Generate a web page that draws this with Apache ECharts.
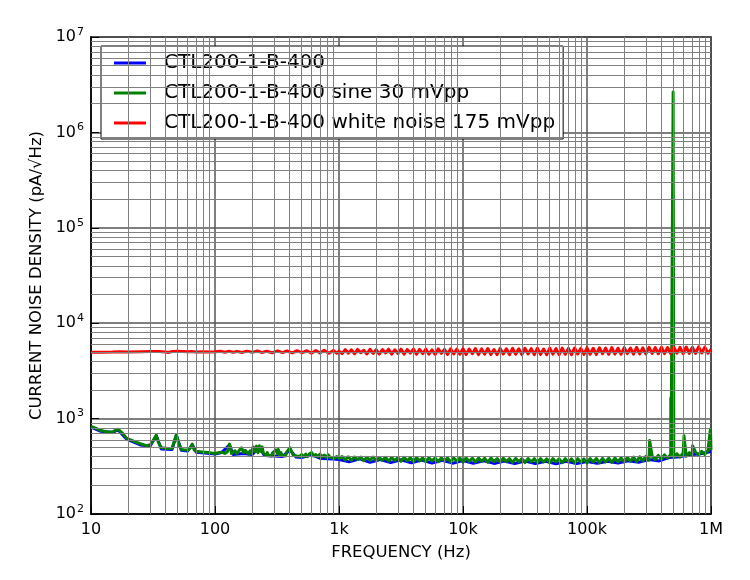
<!DOCTYPE html>
<html><head><meta charset="utf-8">
<script src="https://cdn.jsdelivr.net/npm/echarts@6/dist/echarts.min.js"></script>
<style>html,body{margin:0;padding:0;background:#fff}#c{width:750px;height:580px}</style>
</head><body><div id="c"></div>
<script>
// ---- tick labels ----
const xTickValues = [10, 100, 1000, 10000, 100000, 1000000];
const xTickLabels = ['10', '100', '1k', '10k', '100k', '1M'];
const yTickValues = [100, 1000, 10000, 100000, 1000000, 10000000];
const yTickExponents = ['2', '3', '4', '5', '6', '7'];
const minorMantissas = [2, 3, 4, 5, 6, 7, 8, 9];
const xDecades = [10, 100, 1000, 10000, 100000];
const yDecades = [100, 1000, 10000, 100000, 1000000];

const seriesNames = ['CTL200-1-B-400', 'CTL200-1-B-400 sine 30 mVpp', 'CTL200-1-B-400 white noise 175 mVpp'];

// ---- shared high-frequency sample grid (1 kHz .. 1 MHz) ----
const freqHigh = [
  1000, 1059, 1122, 1189, 1259, 1334, 1413, 1496, 1585, 1679, 1778, 1884, 1995, 2113, 2239, 2371, 2512, 2661, 2818, 2985,
  3162, 3350, 3548, 3758, 3981, 4217, 4467, 4732, 5012, 5309, 5623, 5957, 6310, 6683, 7079, 7499, 7943, 8414, 8913, 9441,
  10000, 10590, 11220, 11890, 12590, 13340, 14130, 14960, 15850, 16790, 17780, 18840, 19950, 21130, 22390, 23710, 25120, 26610, 28180, 29850,
  31620, 33500, 35480, 37580, 39810, 42170, 44670, 47320, 50120, 53090, 56230, 59570, 63100, 66830, 70790, 74990, 79430, 84140, 89130, 94410,
  100000, 105900, 112200, 118900, 125900, 133400, 141300, 149600, 158500, 167900, 177800, 188400, 199500, 211300, 223900, 237100, 251200, 266100, 281800, 298500,
  316200, 335000, 354800, 375800, 398100, 421700, 446700, 473200, 501200, 530900, 562300, 595700, 631000, 668300, 707900, 749900, 794300, 841400, 891300, 944100,
  1000000];

// ---- blue: CTL200-1-B-400 ----
const freqBlue = [10, 12, 15, 16.5, 19.3, 25, 30, 33.6, 36.9, 45, 48.8, 53.5, 60, 65.5, 70.7, 82.5, 100, 113, 131, 140,
  170, 200, 228, 250, 300, 350, 403, 450, 500, 600, 700, 800, 900,
  1000, 1210, 1470, 1780, 2150, 2610, 3160, 3830, 4640, 5620, 6810, 8250,
  10000, 12100, 14700, 17800, 21500, 26100, 31600, 38300, 46400, 56200, 68100, 82500,
  100000, 121000, 147000, 178000, 215000, 261000, 316000, 383000, 464000, 562000, 681000, 825000, 1000000];
const valBlue = [815, 735, 715, 765, 610, 530, 515, 660, 480, 475, 670, 465, 458, 530, 445, 435, 425, 440, 530, 420,
  430, 420, 500, 410, 405, 400, 470, 395, 390, 420, 385, 380, 378,
  372, 352, 378, 348, 372, 346, 370, 344, 368, 342, 366, 341,
  364, 340, 362, 339, 360, 338, 358, 338, 357, 337, 356, 338,
  355, 340, 358, 343, 362, 349, 372, 360, 392, 398, 418, 428, 452];

// ---- green: CTL200-1-B-400 sine 30 mVpp ----
const freqGreenLow = [10, 11, 12, 13.7, 15, 16.5, 18, 19.3, 22, 25, 27.9, 30, 32, 33.6, 35, 36.9, 41.7, 45, 47, 48.8,
  51, 53.5, 57, 60.6, 63, 65.5, 68, 70.7, 76, 82.5, 90, 99.5, 106, 112.6, 120, 126, 131, 136, 140, 145,
  150, 158, 164, 170, 175, 180, 186, 192, 197, 203, 210, 216, 222, 228, 233, 240, 246, 252, 258, 264,
  270, 277, 284, 292, 300, 310, 318, 324, 332, 340, 350, 360, 370, 380, 392, 403, 414, 425, 440, 455,
  470, 484, 500, 520, 540, 560, 580, 603, 625, 650, 675, 702, 730, 760, 790, 818, 850, 880, 920, 960];
const valGreenLow = [830, 790, 750, 725, 730, 775, 700, 625, 580, 545, 520, 530, 600, 670, 560, 495, 485, 490, 580, 680,
  540, 475, 470, 468, 490, 540, 470, 455, 450, 445, 440, 430, 438, 445, 432, 450, 540, 430, 428, 460,
  430, 470, 495, 440, 465, 475, 425, 460, 430, 505, 450, 515, 440, 520, 455, 505, 430, 450, 415, 440,
  410, 430, 405, 440, 420, 470, 430, 475, 415, 440, 410, 430, 405, 450, 470, 495, 450, 420, 435, 405,
  425, 400, 420, 398, 425, 400, 430, 440, 405, 420, 398, 425, 395, 415, 392, 418, 390, 408, 385, 400];
const valGreenHigh = [
  382, 400, 368, 398, 365, 396, 372, 394, 362, 392, 367, 396, 360, 390, 366, 393, 358, 391, 364, 389,
  357, 392, 362, 388, 355, 390, 361, 387, 354, 389, 360, 386, 353, 388, 359, 386, 352, 387, 358, 385,
  351, 386, 357, 384, 350, 385, 356, 383, 349, 386, 355, 382, 348, 384, 354, 381, 347, 383, 353, 380,
  346, 382, 352, 380, 346, 381, 351, 379, 345, 381, 351, 378, 345, 380, 350, 379, 344, 380, 350, 378,
  344, 381, 350, 382, 345, 383, 351, 384, 347, 386, 353, 388, 350, 391, 357, 394, 355, 398, 362, 402,
  366, 406, 372, 411, 377, 416, 384, 422, 390, 428, 396, 434, 402, 440, 408, 447, 415, 454, 422, 462,
  470];
const greenSpikeFreq = [320000, 474000, 476500, 495000, 606000, 710000, 990000];
const greenSpikeVal = [590, 1640, 420, 2650000, 660, 520, 780];

// ---- red: CTL200-1-B-400 white noise 175 mVpp ----
const freqRedLow = [10, 12, 15, 17, 20, 25, 30, 35, 40, 42, 45, 50, 55, 60, 65, 70, 80, 90, 100, 110,
  120, 130, 140, 150, 165, 180, 200, 220, 240, 260, 290, 320, 350, 380, 420, 460, 500, 550, 600, 650,
  700, 760, 830, 900, 960];
const valRedLow = [4950, 4960, 4980, 5010, 4980, 5020, 5050, 5060, 5000, 4930, 5050, 5080, 5060, 5020, 5060, 5000, 5020, 4980, 5010, 5070,
  4960, 5080, 4940, 5070, 4930, 5100, 4950, 5120, 4920, 5090, 4900, 5130, 4920, 5110, 4880, 5150, 4900, 5140, 4860, 5170,
  4880, 5190, 4850, 5170, 4840];
const valRedHigh = [
  5100, 4800, 5290, 4850, 5250, 4780, 5310, 4900, 5200, 4760, 5330, 4820, 5280, 4750, 5300, 4880, 5340, 4740, 5260, 4810,
  5350, 4730, 5290, 4860, 5360, 4720, 5310, 4790, 5370, 4740, 5250, 4710, 5380, 4830, 5320, 4700, 5390, 4760, 5340, 4720,
  5400, 4700, 5350, 4780, 5420, 4690, 5380, 4740, 5430, 4700, 5300, 4680, 5440, 4760, 5390, 4690, 5450, 4720, 5400, 4680,
  5460, 4750, 5410, 4690, 5470, 4710, 5360, 4680, 5480, 4740, 5420, 4700, 5490, 4720, 5440, 4690, 5500, 4760, 5450, 4710,
  5510, 4730, 5460, 4700, 5520, 4780, 5480, 4720, 5540, 4750, 5470, 4730, 5560, 4800, 5500, 4740, 5570, 4770, 5520, 4760,
  5590, 4820, 5540, 4780, 5600, 4800, 5560, 4790, 5620, 4850, 5580, 4810, 5630, 4830, 5600, 4820, 5650, 4870, 5610, 4850,
  5300];

function zip(xs, ys) { return xs.map((x, i) => [x, ys[i]]); }

const blueData = zip(freqBlue, valBlue);
const greenData = zip(freqGreenLow, valGreenLow)
  .concat(zip(freqHigh, valGreenHigh), zip(greenSpikeFreq, greenSpikeVal))
  .sort((a, b) => a[0] - b[0]);
const redData = zip(freqRedLow, valRedLow).concat(zip(freqHigh, valRedHigh));

const xMinor = [];
xDecades.forEach(d => minorMantissas.forEach(m => xMinor.push(d * m)));
const yMinor = [];
yDecades.forEach(d => minorMantissas.forEach(m => yMinor.push(d * m)));

const chart = echarts.init(document.getElementById('c'), null, {renderer: 'canvas'});
const lineSeries = (name, color, data, z, w) => ({
  name, type: 'line', data, symbol: 'none', showSymbol: false, z,
  lineStyle: {color, width: w, join: 'round'}, itemStyle: {color}, animation: false, silent: true,
  emphasis: {disabled: true}
});

chart.setOption({
  animation: false,
  backgroundColor: '#fff',
  grid: {left: 91, right: 39, top: 37, bottom: 66, show: true, borderColor: '#000', borderWidth: 1.5, backgroundColor: '#fff'},
  legend: {
    data: seriesNames.map(n => ({name: n, icon: 'rect'})), orient: 'vertical', left: 101, top: 46,
    backgroundColor: '#fff', borderColor: '#000', borderWidth: 1, borderRadius: 0,
    padding: [7, 8, 6, 13], itemGap: 10, itemWidth: 32, itemHeight: 3,
    textStyle: {fontFamily: 'DejaVu Sans', fontSize: 20, color: '#000', padding: [0, 0, 0, 13], lineHeight: 20},
    selectedMode: false
  },
  xAxis: {
    type: 'log', logBase: 10, min: 10, max: 1000000, splitNumber: 5,
    axisLine: {show: true, onZero: false, lineStyle: {color: '#000', width: 1.5}},
    axisTick: {show: true, inside: true, length: 8, lineStyle: {color: '#000'}},
    axisLabel: {
      color: '#000', fontFamily: 'DejaVu Sans', fontSize: 16, margin: 8,
      formatter: v => { const i = xTickValues.findIndex(t => Math.abs(t - v) / t < 1e-6); return i >= 0 ? xTickLabels[i] : ''; }
    },
    splitLine: {show: true, lineStyle: {color: '#555', width: 1.5}},
    name: 'FREQUENCY (Hz)', nameLocation: 'middle', nameGap: 30,
    nameTextStyle: {color: '#000', fontFamily: 'DejaVu Sans', fontSize: 16.5}
  },
  yAxis: {
    type: 'log', logBase: 10, min: 100, max: 10000000, splitNumber: 5,
    axisLine: {show: true, onZero: false, lineStyle: {color: '#000', width: 1.5}},
    axisTick: {show: true, inside: true, length: 8, lineStyle: {color: '#000'}},
    axisLabel: {
      color: '#000', margin: 7,
      formatter: v => { const i = yTickValues.findIndex(t => Math.abs(t - v) / t < 1e-6); return i >= 0 ? '{b|10}{s|' + yTickExponents[i] + '}' : ''; },
      rich: {
        b: {fontFamily: 'DejaVu Sans', fontSize: 16, color: '#000'},
        s: {fontFamily: 'DejaVu Sans', fontSize: 11, color: '#000', verticalAlign: 'bottom', padding: [0, 0, 10, 1]}
      }
    },
    splitLine: {show: true, lineStyle: {color: '#555', width: 1.5}},
    name: 'CURRENT NOISE DENSITY (pA/\u221AHz)', nameLocation: 'middle', nameGap: 44,
    nameTextStyle: {color: '#000', fontFamily: 'DejaVu Sans', fontSize: 16.5}
  },
  series: [
    {
      name: 'minorGrid', type: 'line', data: [], z: 1, silent: true, symbol: 'none',
      markLine: {
        silent: true, symbol: ['none', 'none'], animation: false,
        label: {show: false}, emphasis: {disabled: true},
        lineStyle: {color: '#808080', width: 1, type: 'solid'},
        data: xMinor.map(v => ({xAxis: v})).concat(yMinor.map(v => ({yAxis: v})))
      }
    },
    lineSeries(seriesNames[0], '#0000ff', blueData, 2, 3),
    lineSeries(seriesNames[1], '#008000', greenData, 3, 3),
    lineSeries(seriesNames[2], '#ff0000', redData, 4, 3)
  ]
});
</script></body></html>
